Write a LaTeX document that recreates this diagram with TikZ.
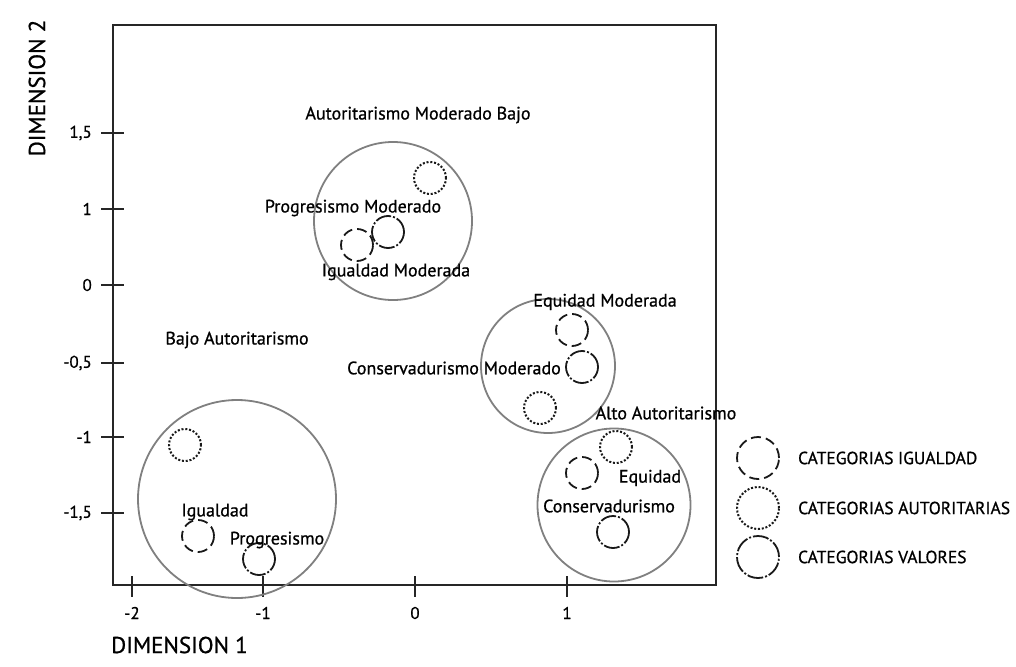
\documentclass[tikz,border=0pt]{standalone}
\usepackage{fontspec}
\setmainfont{PT Sans}
\newfontfamily\heavyfont[FakeBold=0.8]{PT Sans}
\usetikzlibrary{positioning}
\begin{document}
\begin{tikzpicture}[x=1pt, y=-1pt,
		box_style/.style={line width=1.8pt, black!85},
		tick_style/.style={line width=1.4pt, black!85},
		group_style/.style={circle, draw=black!50, line width=1.8pt, inner sep=0pt},
		cat_style/.style={circle, draw=black!90, line width=1.8pt, inner sep=0pt, minimum size=32pt},
		igual_style/.style={cat_style, dash pattern=on 10pt off 5pt},
		autor_style/.style={cat_style, line width=2pt, dash pattern=on 2pt off 1.8pt},
		valor_style/.style={cat_style, dash pattern=on 16pt off 2pt on 2pt off 2pt},
		lbl_style/.style={inner sep=0pt, text=black, font=\heavyfont\fontsize{18}{21}\selectfont},
		tck_style/.style={inner sep=0pt, text=black, font=\heavyfont\fontsize{17}{20}\selectfont},
		dim_style/.style={inner sep=0pt, text=black, font=\heavyfont\fontsize{23}{27}\selectfont},
		leg_style/.style={inner sep=0pt, text=black, font=\heavyfont\fontsize{17.5}{20}\selectfont}]
	\useasboundingbox[fill=white] (0,0) rectangle (1016,666);
	% frame and axes
	\draw[box_style] (113,25) rectangle (716,585);
	\foreach \y/\t in {133/{1,5}, 209/1, 285/0, 363/{-0,5}, 437/-1, 513/{-1,5}} {
		\draw[tick_style] (101,\y) -- (124,\y);
		\node[tck_style, anchor=east] at (92,\y) {\t};
	};
	\foreach \x/\t in {132/-2, 263/-1, 415/0, 567/1} {
		\draw[tick_style] (\x,576) -- (\x,597);
		\node[tck_style] at (\x,613) {\t};
	};
	\node[dim_style, anchor=west] (dim1) at (111,645) {DIMENSION 1};
	\node[dim_style, rotate=90] (dim2) at (37,88) {DIMENSION 2};
	
	% groups
	\node[group_style, minimum size=158pt] (g1) at (393,221) {};
	\node[group_style, minimum size=134pt] (g2) at (548,366) {};
	\node[group_style, minimum size=153pt] (g3) at (614,505) {};
	\node[group_style, minimum size=198pt] (g4) at (237,499) {};
	
	% categories
	\node[autor_style] (amb) at (430,178) {};
	\node[valor_style] (pm) at (388,232) {};
	\node[igual_style] (im) at (357,245) {};
	\node[igual_style] (em) at (572,330) {};
	\node[valor_style] (cm) at (582,367) {};
	\node[autor_style] (aa) at (540,408) {};
	\node[autor_style] (ba) at (185,445) {};
	\node[igual_style] (ig) at (198,536) {};
	\node[valor_style] (pr) at (259,559) {};
	\node[autor_style] (aa2) at (616,447) {};
	\node[igual_style] (eq) at (582,473) {};
	\node[valor_style] (co) at (613,532) {};
	
	% labels
	\node[lbl_style] at (418,115) {Autoritarismo Moderado Bajo};
	\node[lbl_style] at (353,208) {Progresismo Moderado};
	\node[lbl_style] at (396,272) {Igualdad Moderada};
	\node[lbl_style] at (605,302) {Equidad Moderada};
	\node[lbl_style] at (454,368) {Conservadurismo Moderado};
	\node[lbl_style] at (237,340) {Bajo Autoritarismo};
	\node[lbl_style] at (666,413) {Alto Autoritarismo};
	\node[lbl_style] at (650,478) {Equidad};
	\node[lbl_style] at (609,506) {Conservadurismo};
	\node[lbl_style] at (215,512) {Igualdad};
	\node[lbl_style] at (277,540) {Progresismo};
	
	% legend
	\node[igual_style, minimum size=42pt] (leg1) at (758,458) {};
	\node[autor_style, minimum size=42pt] (leg2) at (758,508) {};
	\node[valor_style, minimum size=42pt] (leg3) at (758,557) {};
	\node[leg_style, right=18pt of leg1] {CATEGORIAS IGUALDAD};
	\node[leg_style, right=18pt of leg2] {CATEGORIAS AUTORITARIAS};
	\node[leg_style, right=18pt of leg3] {CATEGORIAS VALORES};
\end{tikzpicture}
\end{document}
